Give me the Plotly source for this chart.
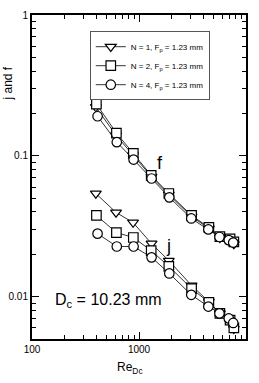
import plotly.graph_objects as go

# Reynolds numbers (Re_Dc)
re_n1 = [395, 610, 880, 1310, 1900, 3100, 4500, 5700, 7000, 7700]
re_n2 = [400, 615, 885, 1300, 1900, 3100, 4500, 5700, 7100, 7700]
re_n4 = [410, 620, 890, 1310, 1920, 3080, 4450, 5650, 6900, 7600]

# friction factor f
f_n1 = [0.222, 0.140, 0.101, 0.071, 0.053, 0.037, 0.0305, 0.0262, 0.0250, 0.0236]
f_n2 = [0.233, 0.145, 0.104, 0.0727, 0.054, 0.0377, 0.031, 0.0267, 0.0257, 0.0245]
f_n4 = [0.191, 0.125, 0.094, 0.069, 0.0507, 0.0359, 0.030, 0.0265, 0.0252, 0.0242]

# Colburn factor j
j_n1 = [0.054, 0.0396, 0.0336, 0.0238, 0.018, 0.012, 0.0092, 0.0076, 0.0068, 0.0059]
j_n2 = [0.0377, 0.0285, 0.0263, 0.0212, 0.0164, 0.0114, 0.0091, 0.0076, 0.0068, 0.0060]
j_n4 = [0.028, 0.0227, 0.0227, 0.019, 0.0146, 0.0103, 0.0085, 0.0076, 0.0070, 0.0065]

names = ["N = 1, F<sub>p</sub> = 1.23 mm", "N = 2, F<sub>p</sub> = 1.23 mm", "N = 4, F<sub>p</sub> = 1.23 mm"]
symbols = ["triangle-down", "square", "circle"]

x_ticks = [100, 1000, 10000]
x_ticklabels = ["100", "1000", "10000"]
y_ticks = [0.01, 0.1, 1]
y_ticklabels = ["0.01", "0.1", "1"]

fig = go.Figure()
series = [(re_n1, f_n1, j_n1), (re_n2, f_n2, j_n2), (re_n4, f_n4, j_n4)]
for i, (re, f, j) in enumerate(series):
    for k, vals in enumerate((f, j)):
        fig.add_trace(go.Scatter(
            x=re, y=vals, mode="lines+markers",
            name=names[i], legendgroup=names[i], showlegend=(k == 0),
            line=dict(color="black", width=0.8),
            marker=dict(symbol=symbols[i], size=9.5,
                        color="white", line=dict(color="black", width=1.2)),
        ))

x_minor = [v * m for v in (100, 1000) for m in range(2, 10)]
y_minor = [0.005, 0.006, 0.007, 0.008, 0.009] + [v * m for v in (0.01, 0.1) for m in range(2, 10)]

fig.update_xaxes(
    type="log", range=[2, 4], tickvals=x_ticks, ticktext=x_ticklabels,
    ticks="inside", ticklen=7, tickwidth=1, tickcolor="black",
    showline=True, linecolor="black", linewidth=2, mirror="ticks",
    showgrid=False, zeroline=False, automargin=False,
    minor=dict(tickvals=x_minor, ticks="inside", ticklen=4, tickcolor="black", showgrid=False),
    tickfont=dict(size=10),
)
fig.update_yaxes(
    type="log", range=[-2.301, 0], tickvals=y_ticks, ticktext=y_ticklabels,
    ticks="inside", ticklen=7, tickwidth=1, tickcolor="black",
    showline=True, linecolor="black", linewidth=2, mirror="ticks",
    showgrid=False, zeroline=False, automargin=False,
    minor=dict(tickvals=y_minor, ticks="inside", ticklen=4, tickcolor="black", showgrid=False),
    tickfont=dict(size=10),
)

# axis titles
fig.add_annotation(x=(130 - 32) / 214, y=-(368 - 339) / 324, xref="paper", yref="paper",
                   text="Re<sub>Dc</sub>", showarrow=False, font=dict(size=12),
                   xanchor="center", yanchor="middle")
fig.add_annotation(x=-0.11, y=0.79, xref="paper", yref="paper", text="j and f",
                   showarrow=False, textangle=-90, font=dict(size=12),
                   xanchor="center", yanchor="middle")

fig.add_annotation(x=3.2, y=-1.05, xref="x", yref="y", text="f", showarrow=False,
                   font=dict(size=18, color="black"), xanchor="center", yanchor="middle")
fig.add_annotation(x=3.28, y=-1.637, xref="x", yref="y", text="j", showarrow=False,
                   font=dict(size=18, color="black"), xanchor="center", yanchor="middle")
fig.add_annotation(x=0.098, y=0.12, xref="paper", yref="paper",
                   text="D<sub>c</sub> = 10.23 mm", showarrow=False,
                   font=dict(size=16, color="black"), xanchor="left", yanchor="middle")

fig.update_layout(
    width=259, height=383,
    margin=dict(l=32, r=13, t=15, b=44),
    paper_bgcolor="white", plot_bgcolor="white",
    font=dict(family="Liberation Sans, Arial, sans-serif", color="black"),
    legend=dict(x=0.27, y=0.95, xanchor="left", yanchor="top",
                bgcolor="white", bordercolor="#555", borderwidth=1,
                font=dict(size=8), tracegroupgap=0, itemwidth=30),
)

fig.write_html("out.html", config={"displayModeBar": False},
               post_script="document.body.style.margin='0px';")
